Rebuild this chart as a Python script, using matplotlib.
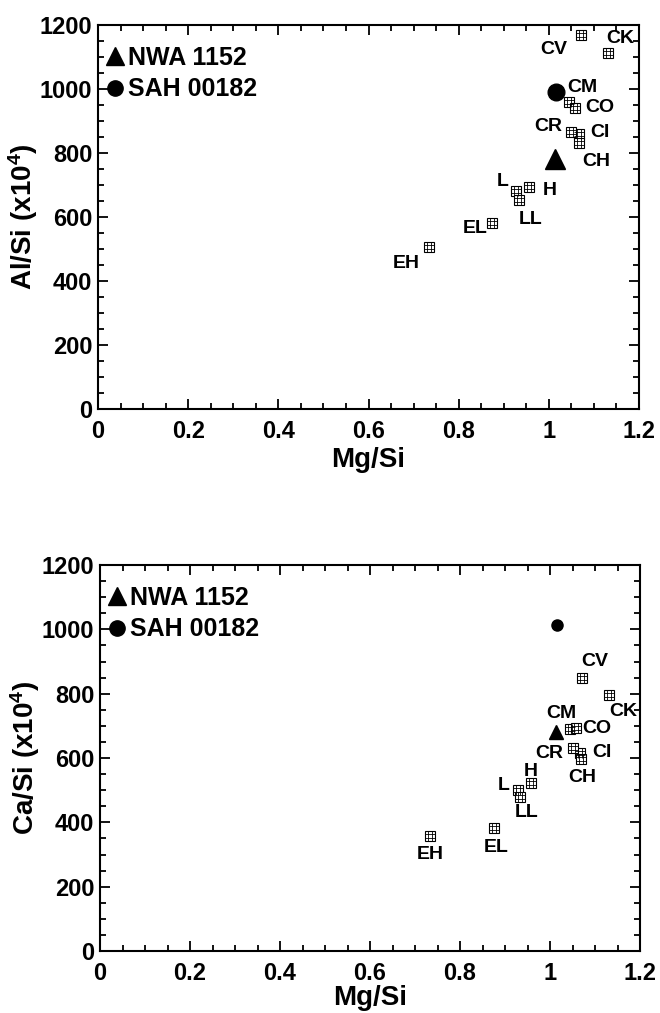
import matplotlib
matplotlib.use("Agg")
import matplotlib.pyplot as plt
from matplotlib.path import Path
from matplotlib.lines import Line2D
from matplotlib.ticker import MultipleLocator, FuncFormatter

plt.rcParams['font.family'] = ['Liberation Sans', 'DejaVu Sans']
plt.rcParams['font.weight'] = 'bold'
plt.rcParams['mathtext.fontset'] = 'custom'
plt.rcParams['mathtext.rm'] = 'Liberation Sans:bold'
plt.rcParams['mathtext.bf'] = 'Liberation Sans:bold'
plt.rcParams['mathtext.default'] = 'bf'

# chondrite groups
groups = ["CI", "CM", "CO", "CV", "CK", "CR", "CH", "H", "L", "LL", "EH", "EL"]
mg_si = [1.066, 1.044, 1.058, 1.071, 1.131, 1.050, 1.068, 0.957, 0.928, 0.933, 0.734, 0.875]
al_si = [858, 958, 941, 1170, 1111, 867, 830, 694, 681, 652, 505, 582]
ca_si = [616, 691, 693, 850, 797, 631, 598, 521, 500, 478, 357, 381]

# the two meteorites
met_names = ["NWA 1152", "SAH 00182"]
met_mg_si = [1.013, 1.016]
met_al_si = [781, 990]
met_ca_si = [681, 1015]

# label offsets in pixels (dx, dy) from each square
off_al = {"CV": (-27, -15), "CK": (12, 15), "CM": (14, 15), "CO": (25, 0),
          "CR": (-23, 5), "CI": (21, 2), "CH": (17, -18), "L": (-14, 10),
          "H": (20, -4), "LL": (12, -19), "EL": (-17, -6), "EH": (-23, -16)}
off_ca = {"CV": (13, 16), "CK": (14, -17), "CM": (-8, 15), "CO": (21, 0),
          "CR": (-23, -5), "CI": (22, 0), "CH": (2, -19), "H": (0, 12),
          "L": (-14, 5), "LL": (7, -15), "EL": (2, -19), "EH": (0, -18)}

# square with a 3x3 grid inside
t = 1.0 / 3
grid_path = Path([(-1, -t), (1, -t), (-1, t), (1, t),
                  (-t, -1), (-t, 1), (t, -1), (t, 1)],
                 [Path.MOVETO, Path.LINETO] * 4)


def draw_panel(ax, yvals, met_y, offsets, ylabel, tri_ms, circ_ms, xpad):
    ax.plot(mg_si, yvals, ls='none', marker='s', ms=7.8, mfc='white',
            mec='black', mew=0.8, zorder=3)
    ax.plot(mg_si, yvals, ls='none', marker=grid_path, ms=7.8,
            mec='black', mew=0.6, zorder=4)
    for g, x, y in zip(groups, mg_si, yvals):
        ax.annotate(g, (x, y), xytext=offsets[g], textcoords='offset pixels',
                    ha='center', va='center', fontsize=14, fontweight='bold')
    ax.plot(met_mg_si[0], met_y[0], ls='none', marker='^', ms=tri_ms,
            color='black', zorder=5)
    ax.plot(met_mg_si[1], met_y[1], ls='none', marker='o', ms=circ_ms,
            color='black', zorder=5)

    handles = [Line2D([], [], ls='none', marker='^', ms=13, color='black'),
               Line2D([], [], ls='none', marker='o', ms=11, color='black')]
    ax.legend(handles, met_names, loc='upper left', bbox_to_anchor=(-0.014, 0.985),
              frameon=False, fontsize=18, handlelength=0.8, handletextpad=0.1,
              labelspacing=0.3, borderaxespad=0.2)

    ax.set_xlim(0, 1.2)
    ax.set_ylim(0, 1200)
    ax.xaxis.set_major_locator(MultipleLocator(0.2))
    ax.xaxis.set_minor_locator(MultipleLocator(0.05))
    ax.yaxis.set_major_locator(MultipleLocator(200))
    ax.yaxis.set_minor_locator(MultipleLocator(50))
    ax.xaxis.set_major_formatter(FuncFormatter(lambda v, p: f"{v:g}"))
    ax.tick_params(which='both', direction='in', top=True, right=True,
                   width=1.3, labelsize=17)
    ax.tick_params(which='major', length=7)
    ax.tick_params(which='minor', length=4)
    ax.tick_params(axis='x', pad=8)
    ax.tick_params(axis='y', pad=4)
    for s in ax.spines.values():
        s.set_linewidth(1.5)
    ax.set_xlabel("Mg/Si", fontsize=20, fontweight='bold', labelpad=xpad)
    ax.set_ylabel(ylabel, fontsize=20, fontweight='bold', labelpad=0)


fig = plt.figure(figsize=(6.6, 10.13), dpi=100)
ax1 = fig.add_axes([98 / 660, 1 - 409 / 1013, 541 / 660, 384 / 1013])
ax2 = fig.add_axes([100 / 660, 1 - 951 / 1013, 540 / 660, 386 / 1013])

draw_panel(ax1, al_si, met_al_si, off_al, r"Al/Si (x10$^{4}$)", 15, 12, 3)
draw_panel(ax2, ca_si, met_ca_si, off_ca, r"Ca/Si (x10$^{4}$)", 10, 8, 0)

fig.savefig("out.png", dpi=100)
